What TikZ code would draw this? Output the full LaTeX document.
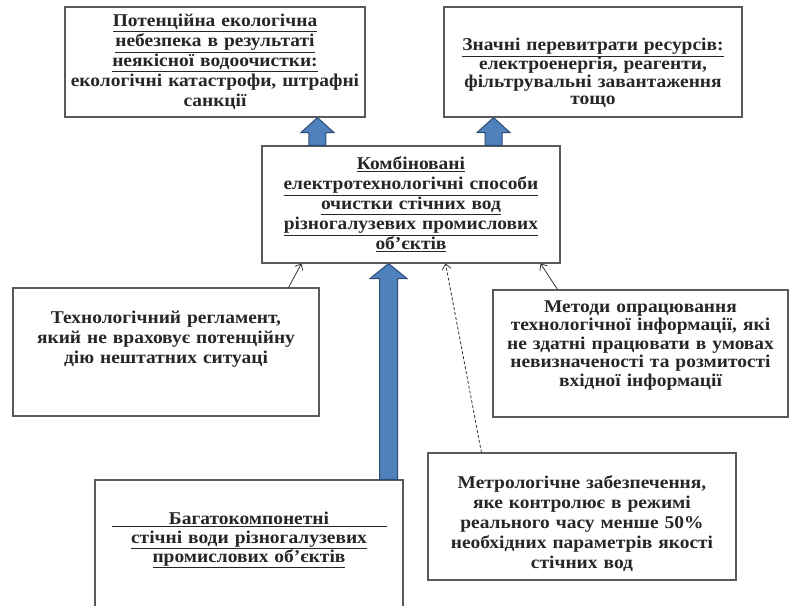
\documentclass[tikz,border=0pt]{standalone}
\usepackage{fontspec}
\setmainfont[FakeStretch=1.08]{Liberation Serif}
\usetikzlibrary{arrows.meta,calc}
\definecolor{boxline}{HTML}{5A5A5A}
\definecolor{arrowfill}{HTML}{4F81BD}
\definecolor{arrowline}{HTML}{2C4D75}
% fat block arrow: tail, tip, half shaft, half head
\newcommand{\fatarrow}[4]{%
  \filldraw[fat] ($(#1)+(-#3,0)$) -- ($(#2)+(-#3,15)$) -- ($(#2)+(-#4,15)$) -- (#2)
    -- ($(#2)+(#4,15)$) -- ($(#2)+(#3,15)$) -- ($(#1)+(#3,0)$) -- cycle;}
\begin{document}
\begin{tikzpicture}[x=1pt, y=-1pt,
    every node/.style={draw=boxline, line width=1.1pt, align=center, inner xsep=2pt, inner ysep=2pt,
      font=\fontsize{18}{20}\selectfont\bfseries, text=black!85},
    fat/.style={fill=arrowfill, draw=arrowline, line width=1pt},
    link/.style={-{Straight Barb[length=5pt,width=9pt]}, line width=0.8pt, black!80}]
    \useasboundingbox (0,0) rectangle (789,605);
    \node[text width=296pt, minimum height=110pt] (1) at (215,62)
        {\underline{Потенційна екологічна}\\ \underline{небезпека в результаті}\\ \underline{неякісної водоочистки:}\\ екологічні катастрофи, штрафні\\ санкції};
    \node[text width=294pt, minimum height=110pt, font=\fontsize{18}{17.5}\selectfont\bfseries] (2) at (593,62)
        {\underline{Значні перевитрати ресурсів:}\\ електроенергія, реагенти,\\ фільтрувальні завантаження\\ тощо\par\vspace{-22pt}};
    \node[text width=294pt, minimum height=117pt] (3) at (411,204.5)
        {\underline{Комбіновані}\\ \underline{електротехнологічні способи}\\ \underline{очистки стічних вод}\\ \underline{різногалузевих промислових}\\ \underline{об’єктів}};
    \node[text width=302pt, minimum height=128pt] (4) at (166,352)
        {Технологічний регламент,\\ який не враховує потенційну\\ дію нештатних ситуаці\par\vspace{26pt}};
    \node[text width=291pt, minimum height=127pt, font=\fontsize{18}{18.5}\selectfont\bfseries] (5) at (640.5,353.5)
        {Методи опрацювання\\ технологічної інформації, які\\ не здатні працювати в умовах\\ невизначеності та розмитості\\ вхідної інформації\par\vspace{16pt}};
    \node[text width=304pt, minimum height=132pt, font=\fontsize{18}{19}\selectfont\bfseries] (6) at (249,546)
        {\underline{\makebox[275pt]{Багатокомпонетні}}\\ \underline{стічні води різногалузевих}\\ \underline{промислових об’єктів}\par\vspace{12pt}};
    \node[text width=304pt, minimum height=127pt] (7) at (582,516.5)
        {Метрологічне забезпечення,\\ яке контролює в режимі\\ реального часу менше 50\%\\ необхідних параметрів якості\\ стічних вод\par\vspace{-14pt}};
    % fat arrows
    \coordinate (p1) at ([xshift=56pt]3.north west);
    \coordinate (q1) at (1.south -| p1);
    \coordinate (p2) at ([xshift=-67pt]3.north east);
    \coordinate (q2) at (2.south -| p2);
    \coordinate (p3) at ([xshift=-15pt]6.north east);
    \coordinate (q3) at (3.south -| p3);
    \fatarrow{p1}{q1}{8.5}{16.5}
    \fatarrow{p2}{q2}{8.5}{16.5}
    \fatarrow{p3}{q3}{9}{18.5}
    % thin arrows
    \draw[link] ([xshift=-31pt]4.north east) -- ([xshift=40pt]3.south west);
    \draw[link, dash pattern=on 3pt off 2pt] ([xshift=54pt]7.north west) -- ([xshift=-115pt]3.south east);
    \draw[link] ([xshift=65pt]5.north west) -- ([xshift=-20pt]3.south east);
\end{tikzpicture}
\end{document}
